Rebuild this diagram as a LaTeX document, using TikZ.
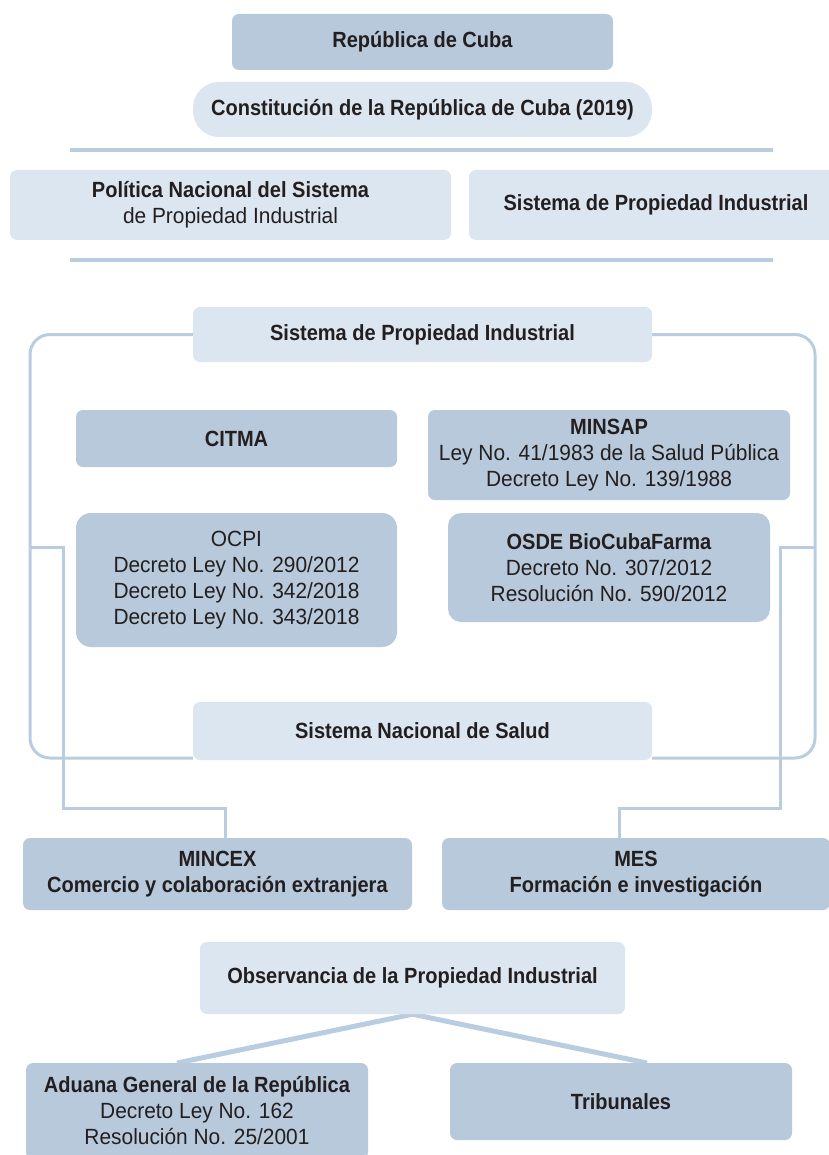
\documentclass[tikz,border=0pt]{standalone}
\usepackage{fontspec}
\setmainfont{Liberation Sans}[UprightFeatures={FakeStretch=0.95}, BoldFeatures={FakeStretch=0.91}]
\usetikzlibrary{backgrounds}
\definecolor{darkbox}{HTML}{B7C9DB}
\definecolor{lightbox}{HTML}{DCE6F0}
\definecolor{linecol}{HTML}{BACDE0}
\definecolor{txt}{HTML}{231F20}
\begin{document}
\begin{tikzpicture}[x=1pt,y=-1pt,
  box/.style={rounded corners=7pt, inner sep=0pt, align=center, text=txt,
    font=\fontsize{22}{26}\selectfont},
  dbox/.style={box, fill=darkbox},
  lbox/.style={box, fill=lightbox},
  sep/.style={draw=linecol, line width=4pt},
  frame/.style={draw=linecol, line width=3pt, rounded corners=20pt},
  link/.style={draw=linecol, line width=3pt},
  tie/.style={draw=linecol, line width=5pt}]
\useasboundingbox (0,0) rectangle (828,1155);

\node[dbox, minimum width=381pt, minimum height=56pt] (rep) at (422.5,42) {\textbf{República de Cuba}};
\node[lbox, rounded corners=26pt, minimum width=459pt, minimum height=55pt] (con) at (422.5,109.5) {\textbf{Constitución de la República de Cuba (2019)}};

\coordinate (s1a) at (70,150); \coordinate (s1b) at (773,150);
\draw[sep] (s1a) -- (s1b);

\node[lbox, minimum width=441pt, minimum height=70pt] (pol) at (230.5,205) {\textbf{Política Nacional del Sistema}\\de Propiedad Industrial};
\node[lbox, minimum width=374pt, minimum height=70pt] (spr) at (656,205) {\textbf{Sistema de Propiedad Industrial}};

\coordinate (s2a) at (70,260); \coordinate (s2b) at (773,260);
\draw[sep] (s2a) -- (s2b);

\node[lbox, minimum width=459pt, minimum height=55pt] (spi) at (422.5,334.5) {\textbf{Sistema de Propiedad Industrial}};
\node[lbox, minimum width=459pt, minimum height=58pt] (sns) at (422.5,731) {\textbf{Sistema Nacional de Salud}};

\node[dbox, minimum width=321pt, minimum height=57pt] (citma) at (236.5,438.5) {\textbf{CITMA}};
\node[dbox, minimum width=362pt, minimum height=90pt] (minsap) at (609,455) {\textbf{MINSAP}\\Ley No. 41/1983 de la Salud Pública\\Decreto Ley No. 139/1988};
\node[dbox, rounded corners=15pt, minimum width=321pt, minimum height=134pt] (ocpi) at (236.5,580) {OCPI\\Decreto Ley No. 290/2012\\Decreto Ley No. 342/2018\\Decreto Ley No. 343/2018};
\node[dbox, rounded corners=13pt, minimum width=322pt, minimum height=109pt] (osde) at (609,567.5) {\textbf{OSDE BioCubaFarma}\\Decreto No. 307/2012\\Resolución No. 590/2012};

\node[dbox, minimum width=389pt, minimum height=72pt] (mincex) at (217.5,874) {\textbf{MINCEX}\\\textbf{Comercio y colaboración extranjera}};
\node[dbox, minimum width=388pt, minimum height=72pt] (mes) at (636,874) {\textbf{MES}\\\textbf{Formación e investigación}};

\node[lbox, minimum width=425pt, minimum height=72pt] (obs) at (412.5,978) {\textbf{Observancia de la Propiedad Industrial}};
\node[dbox, minimum width=342pt, minimum height=96pt] (adu) at (197,1111) {\textbf{Aduana General de la República}\\Decreto Ley No. 162\\Resolución No. 25/2001};
\node[dbox, minimum width=342pt, minimum height=77pt] (trib) at (621,1101.5) {\textbf{Tribunales}};

\coordinate (fl) at (30,758);
\coordinate (fr) at (815,758);
\coordinate (la) at (30,547); \coordinate (lb) at (63,808); \coordinate (lc) at (225,838);
\coordinate (ra) at (816,547); \coordinate (rb) at (780,808); \coordinate (rc) at (619,838);
\coordinate (ta) at (177,1063); \coordinate (tb) at (647,1063);

\begin{scope}[on background layer]
\fill[white] (0,0) rectangle (828,1155);
\draw[frame] (spi.west) -| (fl) -- (sns.west |- fl);
\draw[frame] (spi.east) -| (fr) -- (sns.east |- fr);
\draw[link] (la) -| (lb) -| (lc);
\draw[link] (ra) -| (rb) -| (rc);
\draw[tie] (obs.south) -- (ta);
\draw[tie] (obs.south) -- (tb);
\end{scope}
\end{tikzpicture}
\end{document}
